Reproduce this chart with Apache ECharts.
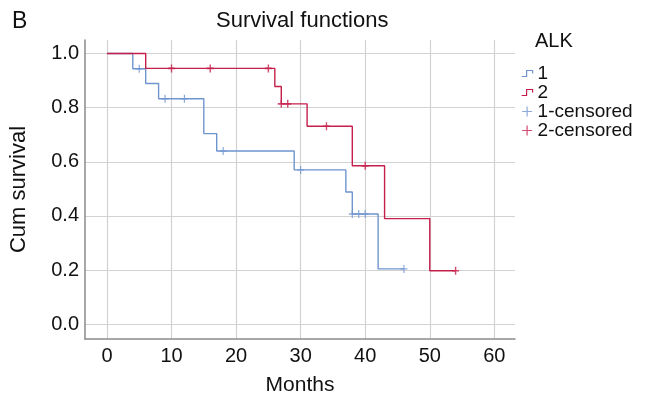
<!DOCTYPE html>
<html>
<head>
<meta charset="utf-8">
<script src="https://cdn.jsdelivr.net/npm/echarts@6/dist/echarts.min.js"></script>
<style>html,body{margin:0;padding:0;background:#fff;}#c{width:646px;height:401px;}</style>
</head>
<body>
<div id="c"></div>
<script>
// Kaplan-Meier step points: [month, cumulative survival]
var group1Steps = [[0,1.0],[4,0.944],[6,0.889],[8,0.833],[15,0.704],[17,0.640],[29,0.570],[37,0.488],[38,0.407],[42,0.204],[46,0.204]];
var group2Steps = [[0,1.0],[6,0.945],[26,0.878],[27,0.814],[31,0.731],[38,0.585],[43,0.390],[50,0.197],[54,0.197]];
// censored observations
var group1Censored = [[5,0.944],[9,0.833],[12,0.833],[18,0.640],[30,0.570],[38,0.407],[39,0.407],[40,0.407],[46,0.204]];
var group2Censored = [[10,0.945],[16,0.945],[25,0.945],[27,0.814],[28,0.814],[34,0.731],[40,0.585],[54,0.197]];
var xTicks = [0,10,20,30,40,50,60];
var yTicks = [0,0.2,0.4,0.6,0.8,1.0];
var legendNames = ['1','2','1-censored','2-censored'];

var BLUE = '#6f95cf', RED = '#c51f4b';
var FONT = 'Liberation Sans, Arial, sans-serif';
var stepIcon = 'path://M0,8L5,8L5,2L11,2L11,5';
var plusIcon = 'path://M5,0L5,10M0,5L10,5';

var chart = echarts.init(document.getElementById('c'), null, {renderer:'canvas'});
chart.setOption({
  animation: false,
  backgroundColor: '#fff',
  textStyle: {fontFamily: FONT},
  title: [
    {text: 'B', left: 7, top: 5, textStyle: {fontSize: 23, fontWeight: 'normal', color: '#111', fontFamily: FONT}},
    {text: 'Survival functions', left: 211, top: 5, textStyle: {fontSize: 22, fontWeight: 'normal', color: '#111', fontFamily: FONT}},
    {text: 'ALK', left: 530, top: 26, textStyle: {fontSize: 20, fontWeight: 'normal', color: '#111', fontFamily: FONT}}
  ],
  legend: {
    orient: 'vertical',
    left: 516, top: 59,
    itemWidth: 11, itemHeight: 10, itemGap: 0,
    textStyle: {fontSize: 19, lineHeight: 19, color: '#111', fontFamily: FONT},
    data: [
      {name: legendNames[0], icon: stepIcon, itemStyle: {color: 'transparent', borderColor: BLUE, borderWidth: 1.2}},
      {name: legendNames[1], icon: stepIcon, itemStyle: {color: 'transparent', borderColor: RED, borderWidth: 1.2}},
      {name: legendNames[2], icon: plusIcon, itemStyle: {color: 'transparent', borderColor: BLUE, borderWidth: 1.2}},
      {name: legendNames[3], icon: plusIcon, itemStyle: {color: 'transparent', borderColor: RED, borderWidth: 1.2}}
    ]
  },
  grid: {left: 82, right: 131, top: 40, bottom: 59, containLabel: false},
  xAxis: {
    type: 'value', min: -3.4, max: 63.2,
    name: 'Months', nameLocation: 'middle', nameGap: 36,
    nameTextStyle: {fontSize: 21, color: '#111', fontFamily: FONT},
    axisLine: {show: true, onZero: false, lineStyle: {color: '#8a8a8a', width: 1.5}},
    axisTick: {show: false, customValues: xTicks},
    axisLabel: {customValues: xTicks, fontSize: 20, color: '#111', margin: 7, fontFamily: FONT},
    splitLine: {show: true, lineStyle: {color: '#d2d2d2', width: 1.2}}
  },
  yAxis: {
    type: 'value', min: -0.055, max: 1.05,
    name: 'Cum survival', nameLocation: 'middle', nameGap: 55, nameRotate: 90,
    nameTextStyle: {fontSize: 22, color: '#111', fontFamily: FONT},
    axisLine: {show: true, onZero: false, lineStyle: {color: '#8a8a8a', width: 1.5}},
    axisTick: {show: false, customValues: yTicks},
    axisLabel: {customValues: yTicks, fontSize: 20, color: '#111', margin: 6, fontFamily: FONT,
      formatter: function (v) { return v.toFixed(1); }},
    splitLine: {show: true, lineStyle: {color: '#d2d2d2', width: 1.2}}
  },
  series: [
    {name: legendNames[0], type: 'line', step: 'end', data: group1Steps, showSymbol: false,
     lineStyle: {color: BLUE, width: 1.4}, itemStyle: {color: BLUE}, z: 3},
    {name: legendNames[1], type: 'line', step: 'end', data: group2Steps, showSymbol: false,
     lineStyle: {color: RED, width: 1.4}, itemStyle: {color: RED}, z: 4},
    {name: legendNames[2], type: 'scatter', data: group1Censored, symbol: plusIcon, symbolSize: [7,8],
     itemStyle: {color: 'transparent', borderColor: BLUE, borderWidth: 1.3}, z: 5},
    {name: legendNames[3], type: 'scatter', data: group2Censored, symbol: plusIcon, symbolSize: [7,8],
     itemStyle: {color: 'transparent', borderColor: RED, borderWidth: 1.5}, z: 6}
  ]
});
</script>
</body>
</html>
